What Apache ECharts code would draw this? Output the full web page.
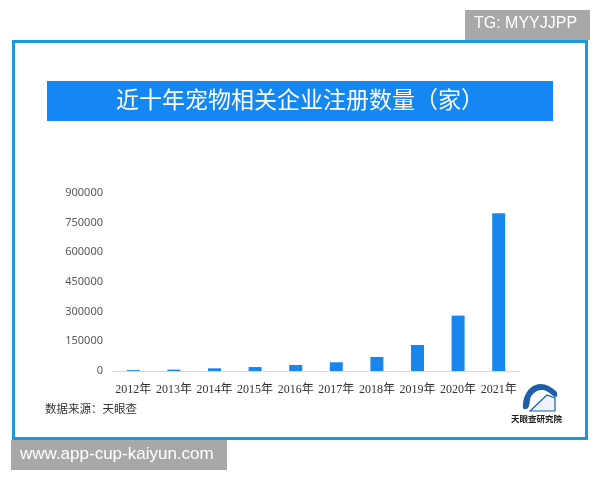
<!DOCTYPE html>
<html>
<head>
<meta charset="utf-8" />
<title>近十年宠物相关企业注册数量</title>
<script src="https://cdn.jsdelivr.net/npm/echarts@6/dist/echarts.min.js"></script>
<style>
	html, body { margin: 0; padding: 0; background: #fff; }
	#chart { width: 600px; height: 480px; }
</style>
</head>
<body>
<div id="chart"></div>
<script>
	// data
	var years = ['2012年', '2013年', '2014年', '2015年', '2016年', '2017年', '2018年', '2019年', '2020年', '2021年'];
	var counts = [4500, 7000, 13500, 20000, 30500, 44000, 71000, 131500, 280000, 797000];
	var yTicks = [0, 150000, 300000, 450000, 600000, 750000, 900000];

	var myChart = echarts.init(document.getElementById('chart'));
	var option = {
		backgroundColor: '#fff',
		title: {
			text: '近十年宠物相关企业注册数量（家）',
			left: 'center',
			top: 88,
			padding: 0,
			textStyle: {
				color: '#fff',
				fontSize: 23,
				fontWeight: 'normal',
				fontFamily: 'Noto Sans CJK SC'
			},
			z: 10
		},
		graphic: [
			// outer frame
			{ type: 'rect', shape: { x: 13.5, y: 41.5, width: 573, height: 397 }, style: { fill: '#fff', stroke: '#1c98de', lineWidth: 3 }, z: -10 },
			// title bar
			{ type: 'rect', shape: { x: 47, y: 81, width: 506, height: 40 }, style: { fill: '#1487f2' }, z: -5 },
			// watermark boxes
			{ type: 'rect', shape: { x: 465, y: 10, width: 125, height: 30 }, style: { fill: '#a8a8a8' } },
			{ type: 'text', x: 474, y: 16, style: { text: 'TG: MYYJJPP', fill: '#fff', font: '16px "Liberation Sans"' } },
			{ type: 'rect', shape: { x: 11, y: 440, width: 216, height: 30 }, style: { fill: '#a8a8a8' } },
			{ type: 'text', x: 20, y: 446, style: { text: 'www.app-cup-kaiyun.com', fill: '#fff', font: '17px "Liberation Sans"' } },
			// source
			{ type: 'text', x: 45, y: 403, style: { text: '数据来源：天眼查', fill: '#333', font: '11.5px "Noto Sans CJK SC"' } },
			// logo
			{ type: 'polygon', shape: { smooth: 0.4, points: [[523, 408], [527, 392], [540, 384], [556, 391], [556, 397], [543, 390], [532, 395], [528, 408]] }, style: { fill: '#1f5fa8' } },
			{ type: 'polygon', shape: { points: [[530, 411], [547, 395], [555, 398], [555, 411]] }, style: { fill: '#eef3f8', stroke: '#1f5fa8', lineWidth: 1.2 } },
			{ type: 'text', x: 511, y: 415, style: { text: '天眼查研究院', fill: '#222', font: 'bold 8.5px "Noto Sans CJK SC"' } }
		],
		grid: {
			left: 113,
			right: 81,
			top: 193,
			bottom: 109,
			containLabel: false
		},
		xAxis: {
			type: 'category',
			data: years,
			axisLine: { lineStyle: { color: '#d9d9d9', width: 1 } },
			axisTick: { show: false },
			axisLabel: {
				color: '#333',
				fontSize: 12,
				fontFamily: '"Liberation Serif", "Noto Sans CJK SC"',
				margin: 13,
				interval: 0
			}
		},
		yAxis: {
			type: 'value',
			min: 0,
			max: 900000,
			interval: 150000,
			axisLine: { show: false },
			axisTick: { show: false },
			splitLine: { show: false },
			axisLabel: {
				color: '#595959',
				fontSize: 11,
				fontFamily: 'Noto Sans',
				margin: 10,
				formatter: function (v) { return yTicks.indexOf(v) >= 0 ? String(v) : ''; }
			}
		},
		series: [{
			type: 'bar',
			data: counts,
			barWidth: 13,
			itemStyle: { color: '#1787ee' }
		}]
	};
	myChart.setOption(option);
</script>
</body>
</html>
